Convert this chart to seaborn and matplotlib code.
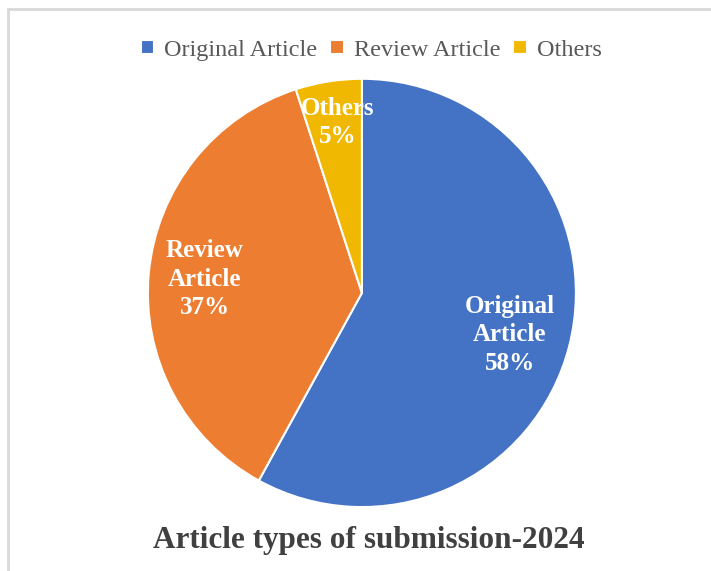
import matplotlib
matplotlib.use("Agg")
import matplotlib.pyplot as plt
from matplotlib.lines import Line2D
import seaborn as sns

# data
categories = ["Original Article", "Review Article", "Others"]
shares = [58, 37, 5]
slice_labels = ["Original\nArticle\n58%", "Review\nArticle\n37%", "Others\n5%"]
title = "Article types of submission-2024"

sns.set_theme(style="white")
plt.rcParams["font.family"] = ["Liberation Serif", "DejaVu Serif"]
colors = sns.color_palette(["#4472C4", "#ED7D31", "#F0B800"])

fig = plt.figure(figsize=(7.11, 5.71), dpi=100)
ax = fig.add_axes([0.208, 0.112, 0.602, 0.750])

wedges, _ = ax.pie(shares, colors=colors, startangle=90, counterclock=False,
                   radius=1.0, wedgeprops=dict(edgecolor="white", linewidth=1.5))
ax.set_xlim(-1, 1)
ax.set_ylim(-1, 1)
ax.set_aspect("auto")
ax.axis("off")

# slice labels (positions in data coords relative to pie radius)
label_pos = [(0.69, -0.196), (-0.734, 0.065), (-0.115, 0.797)]
for txt, (x, y) in zip(slice_labels, label_pos):
    ax.text(x, y, txt, ha="center", va="center", color="white",
            fontsize=18, fontweight="bold", linespacing=1.3)

fig.legend(wedges, categories, loc="center", bbox_to_anchor=(0.522, 0.912),
           ncol=3, frameon=False, fontsize=17.5, handlelength=0.55,
           handleheight=0.55, handletextpad=0.4, columnspacing=0.55,
           labelcolor="#595959")

fig.text(0.519, 0.053, title, ha="center", va="center", fontsize=22.5,
         fontweight="bold", color="#404040")

# chart area border (top and left visible)
fig.add_artist(Line2D([0.011, 1.0], [0.985, 0.985], transform=fig.transFigure,
                      color="#d9d9d9", linewidth=2))
fig.add_artist(Line2D([0.011, 0.011], [0.0, 0.985], transform=fig.transFigure,
                      color="#d9d9d9", linewidth=2))

fig.savefig("out.png", dpi=100, facecolor="white")
